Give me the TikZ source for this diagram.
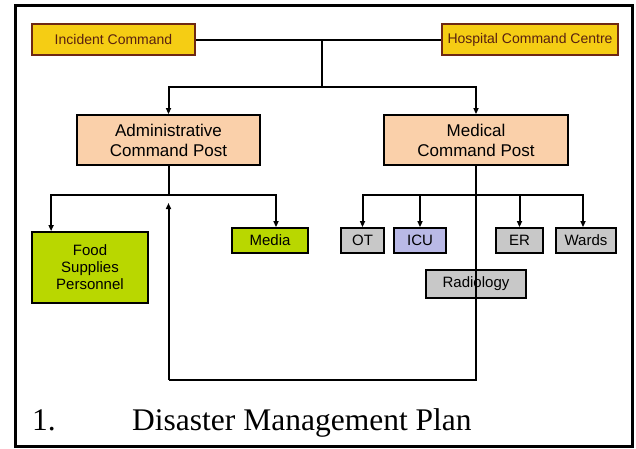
\documentclass[tikz,border=0pt]{standalone}
\usepackage{fontspec}
\setmainfont{Liberation Serif}
\newfontfamily\boxfont{Liberation Sans}
\usepackage{tikz}
\usetikzlibrary{arrows.meta}

\definecolor{gold}{RGB}{245,205,20}
\definecolor{goldline}{RGB}{110,40,20}
\definecolor{peach}{RGB}{250,208,170}
\definecolor{lime}{RGB}{185,215,0}
\definecolor{paleblue}{RGB}{185,185,230}
\definecolor{boxgrey}{RGB}{200,200,200}

\tikzset{
  box/.style={draw=black, line width=1.8pt, inner sep=1pt, align=center,
    font=\boxfont\fontsize{15}{17}\selectfont},
  headbox/.style={box, fill=gold, draw=goldline, text=goldline!80!black,
    font=\boxfont\fontsize{14}{16}\selectfont},
  postbox/.style={box, fill=peach, font=\boxfont\fontsize{17}{20}\selectfont},
  unitbox/.style={box, fill=boxgrey},
  link/.style={line width=2pt, black},
  arr/.style={link, -{Triangle[length=6pt, width=5pt]}},
  caption/.style={anchor=base west, inner sep=0pt,
    font=\fontsize{31.5}{34}\selectfont}
}

\begin{document}
\begin{tikzpicture}[x=1pt, y=-1pt]
\useasboundingbox (0,0) rectangle (636,448);

% frame
\draw [line width=3pt] (15,5) rectangle (632,446);

% top level
\node [headbox, minimum width=163pt, minimum height=31pt] (incident) at (113.5,39.5) {Incident Command};
\node [headbox, minimum width=176pt, minimum height=31pt] (hcc) at (530,39.5) {Hospital Command Centre};
\draw [link] (incident.east) -- (hcc.west);
\coordinate (jtop) at (322,39.5);
\coordinate (jbus) at (322,87);
\draw [link] (jtop) -- (jbus);

% command posts
\node [postbox, minimum width=183pt, minimum height=50pt] (admin) at (168.5,140) {Administrative\\Command Post};
\node [postbox, minimum width=184pt, minimum height=50pt] (medical) at (476,140) {Medical\\Command Post};
\draw [arr] (jbus) -| (admin.north);
\draw [arr] (jbus) -| (medical.north);

% administrative side
\node [box, fill=lime, minimum width=116pt, minimum height=71pt] (food) at (90,267.5) {Food\\Supplies\\Personnel};
\node [box, fill=lime, minimum width=76pt, minimum height=25pt] (media) at (270,240.5) {Media};
\coordinate (abus) at (168.5,195);
\draw [link] (admin.south) -- (abus);
\draw [arr] (abus) -| ([xshift=20pt]food.north west);
\draw [arr] (abus) -| ([xshift=6pt]media.north);

% medical side
\node [unitbox, minimum width=43pt, minimum height=25pt] (ot) at (362.5,240.5) {OT};
\node [unitbox, fill=paleblue, minimum width=52pt, minimum height=25pt] (icu) at (420,240.5) {ICU};
\node [unitbox, minimum width=47pt, minimum height=25pt] (er) at (519.5,240.5) {ER};
\node [unitbox, minimum width=60pt, minimum height=25pt] (wards) at (586,240.5) {Wards};
\node [unitbox, minimum width=100pt, minimum height=28pt] (radiology) at (476,284) {Radiology};
\coordinate (mbus) at (476,195);
\coordinate (mlow) at (476,380);
\coordinate (alow) at (168.5,380);
\draw [arr] (mbus) -| (ot.north);
\draw [arr] (mbus) -| (icu.north);
\draw [arr] (mbus) -| (er.north);
\draw [arr] (mbus) -| ([xshift=-3pt]wards.north);
\draw [link] (medical.south) -- (mlow) -- (alow);
\draw [arr] (alow) -- ([yshift=-8pt]abus);

% caption
\node [caption] (num) at (32,430) {1.};
\node [caption] (title) at (132,430) {Disaster Management Plan};

\end{tikzpicture}
\end{document}
